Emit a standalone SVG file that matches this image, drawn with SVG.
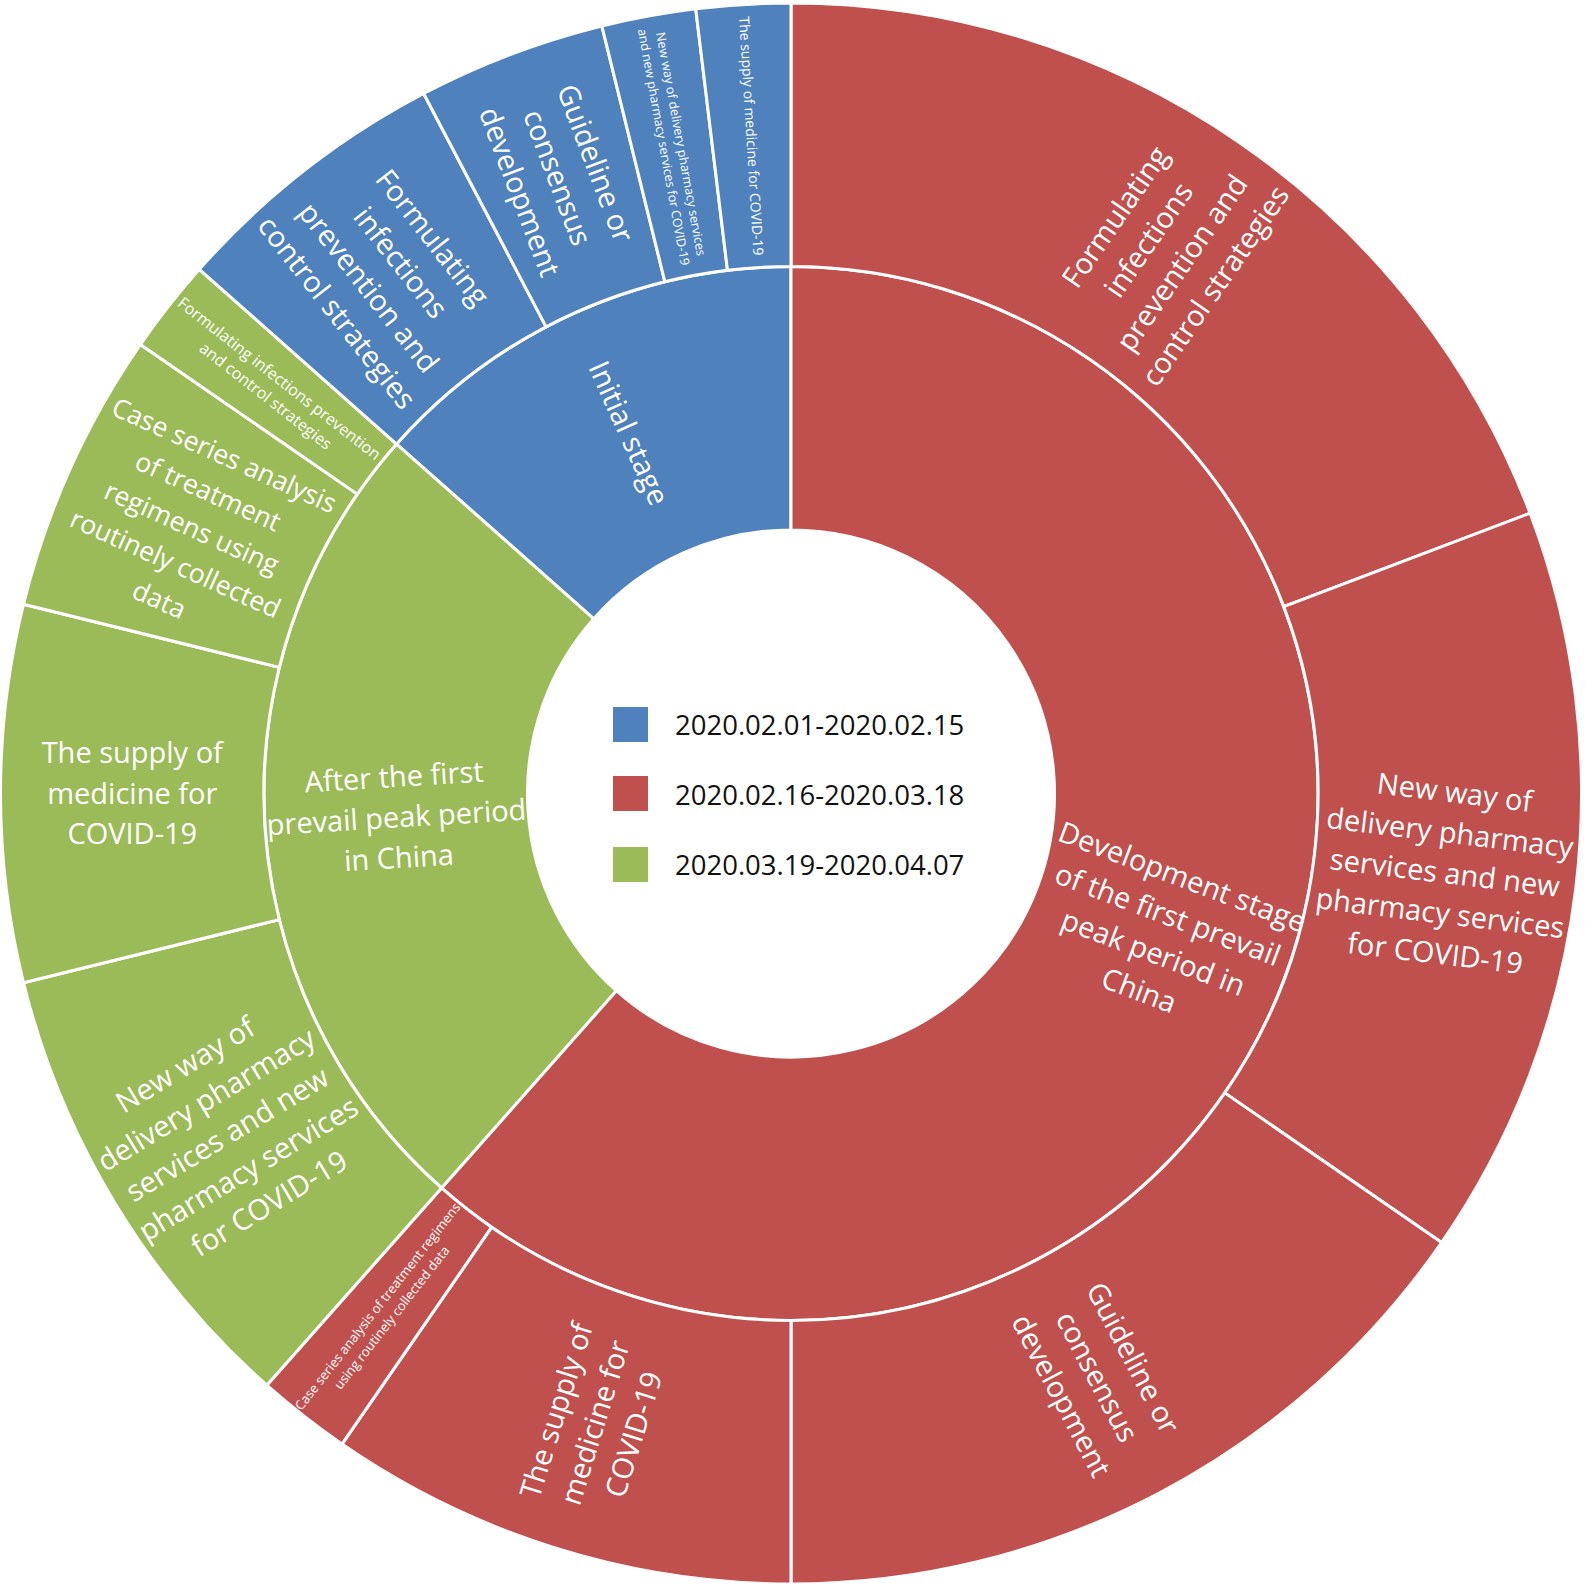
<svg xmlns="http://www.w3.org/2000/svg" width="1585" height="1591" viewBox="0 0 1585 1591">
<style>
.seg{stroke:#fff;stroke-width:3;stroke-linejoin:round}
.b{fill:#4F81BD}.r{fill:#C0504D}.g{fill:#9BBB59}
.lbl{font-family:"Open Sans","Liberation Sans",sans-serif;fill:#fff;text-anchor:middle}
.big{font-size:29px}
.leg{font-family:"Open Sans","Liberation Sans",sans-serif;font-size:27.5px;fill:#111}
</style>
<rect width="1585" height="1591" fill="#fff"/>
<g id="ring-inner">
<g id="node-initial-stage">
<path class="seg b" d="M396.54,444.04 A527,527 0 0 1 791,266.5 L791,530 A263.5,263.5 0 0 0 593.77,618.77 Z"/>
<text class="lbl big" transform="translate(628.78,433.06) rotate(65.77)"><tspan x="0" y="10.15">Initial stage</tspan></text>
</g>
<g id="node-development-stage">
<path class="seg r" d="M791,266.5 A527,527 0 1 1 441.54,1187.96 L616.27,990.73 A263.5,263.5 0 1 0 791,530 Z"/>
<text class="lbl big" transform="translate(1160.57,933.65) rotate(20.77)"><tspan x="0" y="-50.6">Development stage</tspan><tspan x="0" y="-10.1">of the first prevail</tspan><tspan x="0" y="30.4">peak period in</tspan><tspan x="0" y="70.9">China</tspan></text>
</g>
<g id="node-after-peak">
<path class="seg g" d="M441.54,1187.96 A527,527 0 0 1 396.54,444.04 L593.77,618.77 A263.5,263.5 0 0 0 616.27,990.73 Z"/>
<text class="lbl big" transform="translate(396.47,817.35) rotate(-3.46)"><tspan x="0" y="-30.35">After the first</tspan><tspan x="0" y="10.15">prevail peak period</tspan><tspan x="0" y="50.65">in China</tspan></text>
</g>
</g>
<g id="ring-outer">
<g id="node-red-formulating">
<path class="seg r" d="M791,3 A790.5,790.5 0 0 1 1530.13,513.18 L1283.76,606.62 A527,527 0 0 0 791,266.5 Z"/>
<text class="lbl big" transform="translate(1165.22,251.35) rotate(-55.38)"><tspan x="0" y="-50.6">Formulating</tspan><tspan x="0" y="-10.1">infections</tspan><tspan x="0" y="30.4">prevention and</tspan><tspan x="0" y="70.9">control strategies</tspan></text>
</g>
<g id="node-red-newway">
<path class="seg r" d="M1530.13,513.18 A790.5,790.5 0 0 1 1441.58,1242.57 L1224.72,1092.88 A527,527 0 0 0 1283.76,606.62 Z"/>
<text class="lbl big" transform="translate(1444.95,872.91) rotate(6.92)"><tspan x="0" y="-70.85">New way of</tspan><tspan x="0" y="-30.35">delivery pharmacy</tspan><tspan x="0" y="10.15">services and new</tspan><tspan x="0" y="50.65">pharmacy services</tspan><tspan x="0" y="91.15">for COVID-19</tspan></text>
</g>
<g id="node-red-guideline">
<path class="seg r" d="M1441.58,1242.57 A790.5,790.5 0 0 1 791,1584 L791,1320.5 A527,527 0 0 0 1224.72,1092.88 Z"/>
<text class="lbl big" transform="translate(1097.13,1376.8) rotate(62.31)"><tspan x="0" y="-30.35">Guideline or</tspan><tspan x="0" y="10.15">consensus</tspan><tspan x="0" y="50.65">development</tspan></text>
</g>
<g id="node-red-supply">
<path class="seg r" d="M791,1584 A790.5,790.5 0 0 1 341.94,1444.07 L491.63,1227.22 A527,527 0 0 0 791,1320.5 Z"/>
<text class="lbl big" transform="translate(595,1422.43) rotate(-72.69)"><tspan x="0" y="-30.35">The supply of</tspan><tspan x="0" y="10.15">medicine for</tspan><tspan x="0" y="50.65">COVID-19</tspan></text>
</g>
<g id="node-red-case">
<path class="seg r" d="M341.94,1444.07 A790.5,790.5 0 0 1 266.8,1385.2 L441.54,1187.96 A527,527 0 0 0 491.63,1227.22 Z"/>
<text class="lbl" font-size="13" transform="translate(384.71,1312.04) rotate(-51.92)"><tspan x="0" y="-4.45">Case series analysis of treatment regimens</tspan><tspan x="0" y="13.55">using routinely collected data</tspan></text>
</g>
<g id="node-green-newway">
<path class="seg g" d="M266.8,1385.2 A790.5,790.5 0 0 1 23.46,982.67 L279.31,919.62 A527,527 0 0 0 441.54,1187.96 Z"/>
<text class="lbl big" transform="translate(227.23,1134.26) rotate(-31.15)"><tspan x="0" y="-70.85">New way of</tspan><tspan x="0" y="-30.35">delivery pharmacy</tspan><tspan x="0" y="10.15">services and new</tspan><tspan x="0" y="50.65">pharmacy services</tspan><tspan x="0" y="91.15">for COVID-19</tspan></text>
</g>
<g id="node-green-supply">
<path class="seg g" d="M23.46,982.67 A790.5,790.5 0 0 1 23.46,604.33 L279.31,667.38 A527,527 0 0 0 279.31,919.62 Z"/>
<text class="lbl big" transform="translate(132.25,793.5)"><tspan x="0" y="-30.35">The supply of</tspan><tspan x="0" y="10.15">medicine for</tspan><tspan x="0" y="50.65">COVID-19</tspan></text>
</g>
<g id="node-green-case">
<path class="seg g" d="M23.46,604.33 A790.5,790.5 0 0 1 140.43,344.44 L357.28,494.13 A527,527 0 0 0 279.31,667.38 Z"/>
<text class="lbl" font-size="26.5" transform="translate(192,527) rotate(24.23)"><tspan x="0" y="-69.3">Case series analysis</tspan><tspan x="0" y="-29.7">of treatment</tspan><tspan x="0" y="9.9">regimens using</tspan><tspan x="0" y="49.5">routinely collected</tspan><tspan x="0" y="89.1">data</tspan></text>
</g>
<g id="node-green-formulating">
<path class="seg g" d="M140.43,344.44 A790.5,790.5 0 0 1 199.3,269.3 L396.54,444.04 A527,527 0 0 0 357.28,494.13 Z"/>
<text class="lbl" font-size="16" transform="translate(272.46,387.21) rotate(38.08)"><tspan x="0" y="-5.4">Formulating infections prevention</tspan><tspan x="0" y="16.6">and control strategies</tspan></text>
</g>
<g id="node-blue-formulating">
<path class="seg b" d="M199.3,269.3 A790.5,790.5 0 0 1 423.64,93.54 L546.09,326.86 A527,527 0 0 0 396.54,444.04 Z"/>
<text class="lbl big" transform="translate(384.71,274.96) rotate(51.92)"><tspan x="0" y="-50.6">Formulating</tspan><tspan x="0" y="-10.1">infections</tspan><tspan x="0" y="30.4">prevention and</tspan><tspan x="0" y="70.9">control strategies</tspan></text>
</g>
<g id="node-blue-guideline">
<path class="seg b" d="M423.64,93.54 A790.5,790.5 0 0 1 601.83,25.96 L664.88,281.81 A527,527 0 0 0 546.09,326.86 Z"/>
<text class="lbl big" transform="translate(557.41,177.56) rotate(69.23)"><tspan x="0" y="-30.35">Guideline or</tspan><tspan x="0" y="10.15">consensus</tspan><tspan x="0" y="50.65">development</tspan></text>
</g>
<g id="node-blue-newway">
<path class="seg b" d="M601.83,25.96 A790.5,790.5 0 0 1 695.71,8.76 L727.48,270.34 A527,527 0 0 0 664.88,281.81 Z"/>
<text class="lbl" font-size="12.5" transform="translate(672.31,145.51) rotate(79.62)"><tspan x="0" y="-4.35">New way of delivery pharmacy services</tspan><tspan x="0" y="13.15">and new pharmacy services for COVID-19</tspan></text>
</g>
<g id="node-blue-supply">
<path class="seg b" d="M695.71,8.76 A790.5,790.5 0 0 1 791,3 L791,266.5 A527,527 0 0 0 727.48,270.34 Z"/>
<text class="lbl" font-size="14" transform="translate(751.24,135.95) rotate(86.54)"><tspan x="0" y="4.9">The supply of medicine for COVID-19</tspan></text>
</g>
</g>
<g id="legend">
<g id="legend-blue"><rect class="b" x="613" y="707" width="35" height="35"/><text class="leg" x="675" y="735">2020.02.01-2020.02.15</text></g>
<g id="legend-red"><rect class="r" x="613" y="776" width="35" height="35"/><text class="leg" x="675" y="805">2020.02.16-2020.03.18</text></g>
<g id="legend-green"><rect class="g" x="613" y="847" width="35" height="35"/><text class="leg" x="675" y="875">2020.03.19-2020.04.07</text></g>
</g>
</svg>
